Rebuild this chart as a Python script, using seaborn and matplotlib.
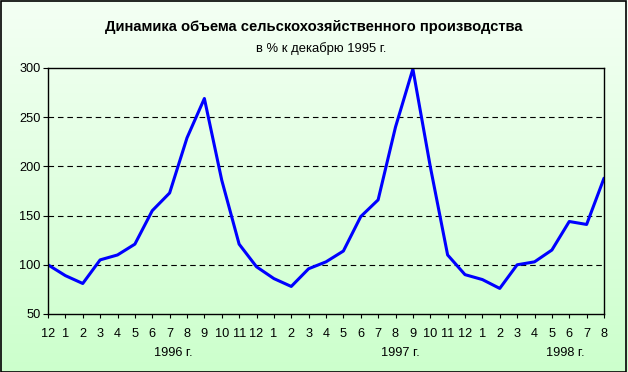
import numpy as np
import pandas as pd
import matplotlib
matplotlib.use("Agg")
import matplotlib.pyplot as plt
from matplotlib.colors import LinearSegmentedColormap
import seaborn as sns

# данные: в % к декабрю 1995 г.
months = ["12", "1", "2", "3", "4", "5", "6", "7", "8", "9", "10", "11",
          "12", "1", "2", "3", "4", "5", "6", "7", "8", "9", "10", "11",
          "12", "1", "2", "3", "4", "5", "6", "7", "8"]
values = [100, 89, 81, 105, 110, 121, 155, 173, 229, 269, 186, 121,
          98, 86, 78, 96, 103, 114, 149, 166, 240, 299, 200, 110,
          90, 85, 76, 100, 103, 115, 144, 141, 188]
years = ["1996 г.", "1997 г.", "1998 г."]
year_pos = [7.2, 20.3, 29.8]

df = pd.DataFrame({"idx": np.arange(len(values)), "val": values})

sns.set_style("white")
plt.rcParams["font.family"] = ["Liberation Sans", "DejaVu Sans"]
plt.rcParams["text.color"] = "black"

fig = plt.figure(figsize=(6.28, 3.72), dpi=100)

# градиентный фон всей картинки
bg = fig.add_axes([0, 0, 1, 1], zorder=-10)
cmap = LinearSegmentedColormap.from_list("g", ["#ccffcc", "#f4fff4"])
bg.imshow(np.linspace(0, 1, 256).reshape(-1, 1), aspect="auto", cmap=cmap,
          origin="lower", extent=[0, 1, 0, 1])
bg.set_xlim(0, 1)
bg.set_ylim(0, 1)
bg.axis("off")
bg.add_patch(plt.Rectangle((0.0008, 0.0013), 0.9968, 0.9960, fill=False,
                           edgecolor="black", lw=1.2, transform=bg.transAxes))

ax = fig.add_axes([48 / 628, 58 / 372, 556 / 628, 246 / 372])
ax.patch.set_alpha(0)

sns.lineplot(data=df, x="idx", y="val", ax=ax, color="#0000ff", linewidth=2.2)

ax.set_xlim(0, len(values) - 1)
ax.set_ylim(50, 300)
ax.set_yticks([50, 100, 150, 200, 250, 300])
ax.set_xticks(np.arange(len(values)))
ax.set_xticklabels(months)
ax.set_xlabel("")
ax.set_ylabel("")
for y in [100, 150, 200, 250]:
    ax.axhline(y, color="black", lw=0.8, dashes=(5, 3.5), zorder=0)

for s in ax.spines.values():
    s.set_color("black")
    s.set_linewidth(1.0)
ax.tick_params(axis="x", direction="out", length=3, width=0.8, pad=7,
               labelsize=9.2, bottom=True, colors="black")
ax.tick_params(axis="y", direction="out", length=3.5, width=0.8, pad=2,
               labelsize=9.2, left=True, colors="black")

for lab, p in zip(years, year_pos):
    ax.text(p, -0.16, lab, transform=ax.get_xaxis_transform(), ha="center",
            va="center", fontsize=9.2, color="black")

fig.text(0.5, 1 - 27 / 372, "Динамика объема сельскохозяйственного производства",
         ha="center", va="center", fontsize=10.6, fontweight="bold", color="black")
fig.text(321 / 628, 1 - 49 / 372, "в % к декабрю 1995 г.", ha="center",
         va="center", fontsize=9.4, color="black")

fig.savefig("out.png", dpi=100)
